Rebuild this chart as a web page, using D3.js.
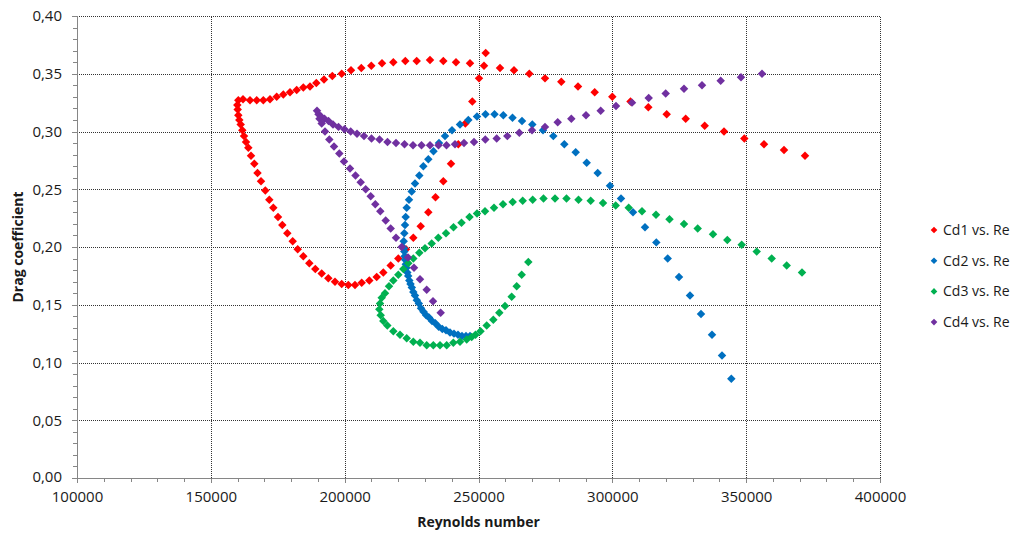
<!DOCTYPE html>
<html lang="en">
<head>
<meta charset="utf-8">
<script src="https://d3js.org/d3.v7.min.js"></script>
<style>
  body { margin: 0; background: #fff; }
  svg text { font-family: "Open Sans", "DejaVu Sans", sans-serif; }
</style>
</head>
<body>
<script>
// values: [Reynolds number, drag coefficient]
var cd1 = [
  [160260,0.327],[159900,0.323],[160040,0.319],[160260,0.314],[160640,0.310],[161160,0.306],
  [161760,0.301],[162390,0.296],[163140,0.291],[164000,0.286],[165010,0.279],[166240,0.272],
  [167430,0.264],[168740,0.257],[170350,0.249],[171840,0.241],[173340,0.234],[175090,0.226],
  [176700,0.219],[178570,0.212],[180590,0.205],[182450,0.198],[184550,0.192],[186790,0.186],
  [189030,0.181],[191420,0.177],[193890,0.173],[196390,0.170],[198890,0.168],[201360,0.167],
  [203860,0.167],[206360,0.169],[209200,0.171],[211970,0.174],[214430,0.178],[217200,0.184],
  [220040,0.190],[222910,0.198],[225640,0.208],[228410,0.218],[231250,0.230],[233940,0.243],
  [236850,0.257],[239730,0.272],[242450,0.289],[245070,0.307],[247680,0.326],[250190,0.346],
  [252690,0.368],
  [162020,0.328],[164630,0.327],[167140,0.327],[169600,0.327],[172100,0.328],[174610,0.330],
  [177070,0.332],[179580,0.334],[182080,0.336],[184550,0.338],[187050,0.339],[189400,0.342],
  [192280,0.345],[195380,0.348],[198890,0.350],[202370,0.353],[206210,0.355],[209950,0.357],
  [213950,0.359],[218170,0.360],[222650,0.361],[226910,0.361],[231880,0.362],[236850,0.361],
  [241590,0.360],[246820,0.359],[252060,0.357],[258030,0.355],[263260,0.353],[268980,0.350],
  [274850,0.346],[280930,0.343],[287170,0.339],[293410,0.334],[299990,0.330],[306790,0.326],
  [313440,0.321],[320310,0.315],[327410,0.311],[334510,0.305],[341720,0.300],[349300,0.294],
  [356660,0.289],[364140,0.284],[371980,0.279]
];

var cd2 = [
  [246820,0.123],[245330,0.123],[243840,0.123],[242340,0.124],[240850,0.125],[239350,0.126],
  [237860,0.128],[236480,0.129],[235130,0.131],[233860,0.134],[232630,0.136],[231510,0.139],
  [230460,0.141],[229450,0.144],[228520,0.147],[227700,0.151],[226950,0.154],[226280,0.158],
  [225640,0.161],[225080,0.165],[224600,0.168],[224150,0.171],[223740,0.175],[223400,0.178],
  [223100,0.182],[222840,0.185],[222620,0.189],[222430,0.192],[222280,0.196],[222170,0.199],
  [222060,0.205],[222280,0.212],[222540,0.219],[222800,0.226],[223180,0.234],[224040,0.241],
  [225040,0.248],[226280,0.255],[227880,0.262],[229380,0.270],[231250,0.276],[233190,0.283],
  [235240,0.290],[237480,0.296],[240100,0.301],[243090,0.306],[246190,0.310],[249440,0.313],
  [252620,0.315],[255980,0.315],[259270,0.314],[262700,0.312],[266250,0.309],[270100,0.306],
  [274100,0.301],[277950,0.296],[282060,0.289],[286310,0.282],[290420,0.273],[294530,0.264],
  [299130,0.253],[303240,0.242],[307720,0.230],[312210,0.217],[316430,0.204],[320690,0.190],
  [324910,0.174],[329020,0.158],[333130,0.142],[337240,0.124],[340970,0.106],[344450,0.086]
];

var cd3 = [
  [268610,0.187],[266140,0.176],[264270,0.166],[262400,0.157],[259900,0.149],[257770,0.143],
  [255530,0.137],[253060,0.132],[250750,0.127],[248880,0.124],[247460,0.122],[245590,0.120],
  [243090,0.118],[240590,0.117],[238120,0.115],[235620,0.115],[233110,0.115],[230650,0.115],
  [228140,0.117],[225640,0.118],[223180,0.121],[220670,0.124],[218170,0.127],[215930,0.132],
  [214430,0.136],[213460,0.141],[212940,0.146],[213200,0.151],[213840,0.156],[215070,0.160],
  [216560,0.166],[218170,0.171],[220040,0.176],[221910,0.181],[223770,0.186],[225640,0.190],
  [227880,0.195],[230010,0.199],[232520,0.203],[234980,0.208],[237860,0.212],[240660,0.217],
  [243650,0.221],[246640,0.226],[249440,0.229],[252430,0.231],[255790,0.234],[259150,0.237],
  [262780,0.239],[266510,0.240],[270250,0.241],[274280,0.242],[278580,0.242],[282880,0.242],
  [287360,0.241],[291920,0.240],[296510,0.238],[301260,0.236],[306110,0.234],[311080,0.231],
  [316310,0.228],[321360,0.224],[326780,0.220],[331890,0.216],[337610,0.211],[342950,0.206],
  [348330,0.202],[353940,0.196],[359540,0.190],[365140,0.184],[370860,0.178]
];

var cd4 = [
  [189660,0.318],[190220,0.315],[191160,0.313],[192470,0.311],[193960,0.309],[195640,0.306],
  [197700,0.304],[199940,0.302],[202250,0.300],[204610,0.298],[207220,0.296],[210030,0.294],
  [213010,0.293],[216000,0.291],[219180,0.290],[222350,0.289],[225530,0.288],[228710,0.288],
  [231880,0.288],[235060,0.288],[238050,0.288],[241220,0.289],[244580,0.290],[248320,0.291],
  [252540,0.293],[256800,0.294],[260760,0.296],[265240,0.299],[269990,0.301],[274850,0.304],
  [279590,0.308],[284670,0.311],[290160,0.314],[295650,0.318],[301370,0.322],[307350,0.325],
  [313590,0.329],[319940,0.333],[326780,0.337],[333500,0.340],[340490,0.344],[348070,0.347],
  [355920,0.350],
  [190600,0.311],[191420,0.307],[192650,0.300],[194260,0.293],[196020,0.287],[198000,0.281],
  [199750,0.274],[201990,0.268],[204050,0.262],[205990,0.256],[207860,0.250],[209730,0.244],
  [211440,0.237],[213310,0.231],[215330,0.223],[217200,0.216],[219180,0.208],[221310,0.200],
  [223660,0.191],[225900,0.182],[228140,0.172],[230650,0.163],[233000,0.153],[235880,0.143]
];

var seriesNames = ["Cd1 vs. Re", "Cd2 vs. Re", "Cd3 vs. Re", "Cd4 vs. Re"];
var seriesColors = ["#ff0000", "#0070c0", "#00b050", "#7030a0"];
var xTicks = [100000, 150000, 200000, 250000, 300000, 350000, 400000];
var yTicks = [0, 0.05, 0.10, 0.15, 0.20, 0.25, 0.30, 0.35, 0.40];

var width = 1016,
    height = 534;
var margin = {top: 16, right: 136, bottom: 56, left: 77};

var svg = d3.select("body").append("svg")
    .attr("width", width)
    .attr("height", height);

var x = d3.scaleLinear()
    .domain([100000, 400000])
    .range([margin.left, width - margin.right]);

var y = d3.scaleLinear()
    .domain([0, 0.4])
    .range([height - margin.bottom, margin.top]);

// square diamond like the spreadsheet marker
var diamond = {
  draw: function(context, size) {
    var r = Math.sqrt(size / 2);
    context.moveTo(0, -r);
    context.lineTo(r, 0);
    context.lineTo(0, r);
    context.lineTo(-r, 0);
    context.closePath();
  }
};

// grid
var grid = svg.append("g")
    .attr("stroke", "#333")
    .attr("stroke-dasharray", "1,1")
    .attr("shape-rendering", "crispEdges");

grid.selectAll(".hgrid")
  .data(yTicks.slice(1))
  .enter().append("line")
    .attr("x1", x.range()[0])
    .attr("x2", x.range()[1])
    .attr("y1", function(d) { return Math.round(y(d)) + 0.5; })
    .attr("y2", function(d) { return Math.round(y(d)) + 0.5; });

grid.selectAll(".vgrid")
  .data(xTicks.slice(1))
  .enter().append("line")
    .attr("y1", y.range()[0])
    .attr("y2", y.range()[1])
    .attr("x1", function(d) { return Math.round(x(d)) + 0.5; })
    .attr("x2", function(d) { return Math.round(x(d)) + 0.5; });

// minor ticks
svg.append("g")
    .attr("class", "minor")
    .attr("transform", "translate(0," + y.range()[0] + ")")
    .call(d3.axisBottom(x).tickValues(d3.range(100000, 400001, 10000)).tickSize(4).tickFormat(""));

svg.append("g")
    .attr("class", "minor")
    .attr("transform", "translate(" + x.range()[0] + ",0)")
    .call(d3.axisLeft(y).tickValues(d3.range(0, 41).map(function(i) { return i / 100; })).tickSize(4).tickFormat(""));

// major axes
var xAxis = svg.append("g")
    .attr("transform", "translate(0," + y.range()[0] + ")")
    .call(d3.axisBottom(x).tickValues(xTicks).tickSize(5).tickPadding(8).tickFormat(d3.format("d")));

var yAxis = svg.append("g")
    .attr("transform", "translate(" + x.range()[0] + ",0)")
    .call(d3.axisLeft(y).tickValues(yTicks).tickSize(5).tickPadding(10)
      .tickFormat(function(d) { return d3.format(".2f")(d).replace(".", ","); }));

svg.selectAll(".domain, .tick line")
    .attr("stroke", "#868686")
    .attr("shape-rendering", "crispEdges");

svg.selectAll(".tick text")
    .attr("fill", "#1a1a1a")
    .style("font-size", "15px");

// lift the bottom y label a touch so it clears the first x label
yAxis.selectAll(".tick text")
    .filter(function(d) { return d === 0; })
    .attr("dy", "0.2em");

// axis titles
svg.append("text")
    .attr("x", (x.range()[0] + x.range()[1]) / 2)
    .attr("y", 527)
    .attr("text-anchor", "middle")
    .attr("font-weight", "bold")
    .style("font-size", "14px")
    .attr("fill", "#1a1a1a")
    .text("Reynolds number");

svg.append("text")
    .attr("transform", "translate(23," + ((y.range()[0] + y.range()[1]) / 2) + ") rotate(-90)")
    .attr("text-anchor", "middle")
    .attr("font-weight", "bold")
    .style("font-size", "14px")
    .attr("fill", "#1a1a1a")
    .text("Drag coefficient");

// points
var symbol = d3.symbol().type(diamond).size(36);
var allSeries = [cd1, cd2, cd3, cd4];

allSeries.forEach(function(data, i) {
  svg.append("g")
    .selectAll("path")
    .data(data)
    .enter().append("path")
      .attr("d", symbol)
      .attr("fill", seriesColors[i])
      .attr("transform", function(d) { return "translate(" + x(d[0]) + "," + y(d[1]) + ")"; });
});

// legend
var legend = svg.append("g")
    .attr("transform", "translate(934,230)");

var items = legend.selectAll("g")
  .data(seriesNames)
  .enter().append("g")
    .attr("transform", function(d, i) { return "translate(0," + (i * 30.7) + ")"; });

items.append("path")
    .attr("d", d3.symbol().type(diamond).size(22))
    .attr("fill", function(d, i) { return seriesColors[i]; });

items.append("text")
    .attr("x", 9)
    .attr("dy", "0.35em")
    .attr("fill", "#1a1a1a")
    .style("font-size", "14px")
    .text(function(d) { return d; });
</script>
</body>
</html>
